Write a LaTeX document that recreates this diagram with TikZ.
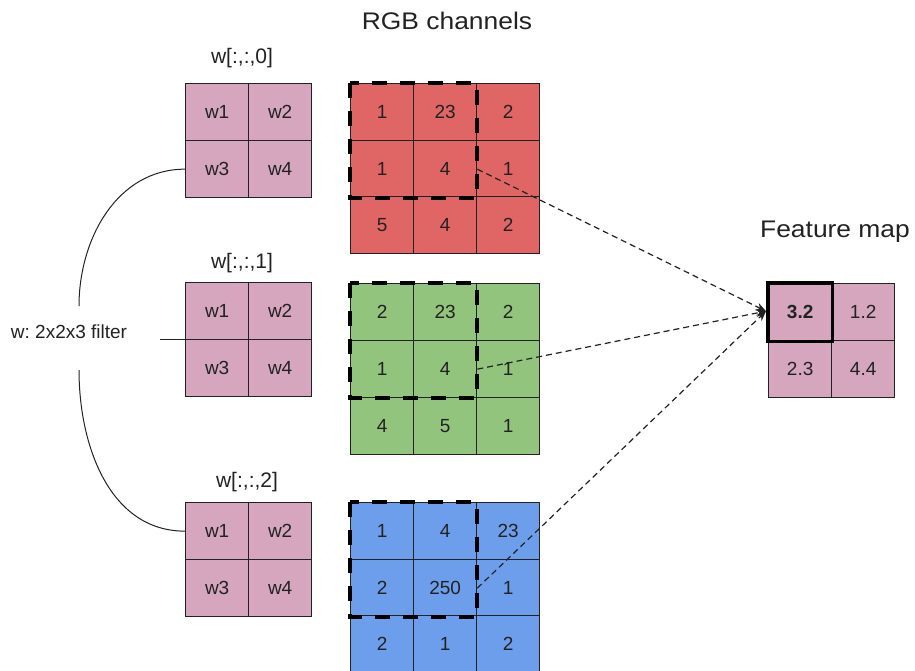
\documentclass[tikz,border=0pt]{standalone}
\usepackage{fontspec}
\setmainfont{Liberation Sans}
\usetikzlibrary{arrows.meta}
\definecolor{wpink}{HTML}{D5A6BD}
\definecolor{chred}{HTML}{E06666}
\definecolor{chgreen}{HTML}{93C47D}
\definecolor{chblue}{HTML}{6D9EEB}
\definecolor{ink}{HTML}{222222}
\newcommand{\widetext}[1]{\scalebox{1.1}[1]{#1}}
\frenchspacing
\tikzset{
  cell/.style={draw=ink, line width=1.3pt, inner sep=0pt, anchor=north west,
    minimum width=63pt, minimum height=57pt, text=ink, font=\fontsize{19}{19}\selectfont},
  wcell/.style={cell, fill=wpink},
  rcell/.style={cell, fill=chred},
  gcell/.style={cell, fill=chgreen},
  bcell/.style={cell, fill=chblue},
  label/.style={text=ink, font=\fontsize{21}{21}\selectfont},
  title/.style={text=ink, font=\fontsize{24}{24}\selectfont},
  window/.style={draw=black, line width=4pt, dash pattern=on 15pt off 13pt},
  link/.style={draw=ink, line width=1pt},
  flow/.style={draw=ink, line width=1.2pt, dash pattern=on 6pt off 4pt,
    -{Stealth[length=10pt,width=8pt]}},
}
\begin{document}
\begin{tikzpicture}[x=1pt,y=-1pt]
\useasboundingbox (0,0) rectangle (915,670);
\begin{scope}
\clip (0,0) rectangle (915,670);

% filter slices
\foreach \n/\y in {0/83,1/282,2/502}{
  \node[wcell] (f\n w1) at (185,\y) {w1};
  \node[wcell] (f\n w2) at (248,\y) {w2};
  \node[wcell] (f\n w3) at (185,\y+57) {w3};
  \node[wcell] (f\n w4) at (248,\y+57) {w4};
}
\node[label] (l0) at (242,58) {w[:,:,0]};
\node[label] (l1) at (242,263) {w[:,:,1]};
\node[label] (l2) at (247,482) {w[:,:,2]};

% red channel
\node[rcell] (r11) at (350,83) {1};
\node[rcell] (r12) at (413,83) {23};
\node[rcell] (r13) at (476,83) {2};
\node[rcell] (r21) at (350,140) {1};
\node[rcell] (r22) at (413,140) {4};
\node[rcell] (r23) at (476,140) {1};
\node[rcell] (r31) at (350,196) {5};
\node[rcell] (r32) at (413,196) {4};
\node[rcell] (r33) at (476,196) {2};

% green channel
\node[gcell] (g11) at (350,283) {2};
\node[gcell] (g12) at (413,283) {23};
\node[gcell] (g13) at (476,283) {2};
\node[gcell] (g21) at (350,340) {1};
\node[gcell] (g22) at (413,340) {4};
\node[gcell] (g23) at (476,340) {1};
\node[gcell] (g31) at (350,397) {4};
\node[gcell] (g32) at (413,397) {5};
\node[gcell] (g33) at (476,397) {1};

% blue channel
\node[bcell] (b11) at (350,502) {1};
\node[bcell] (b12) at (413,502) {4};
\node[bcell] (b13) at (476,502) {23};
\node[bcell] (b21) at (350,559) {2};
\node[bcell] (b22) at (413,559) {250};
\node[bcell] (b23) at (476,559) {1};
\node[bcell] (b31) at (350,615) {2};
\node[bcell] (b32) at (413,615) {1};
\node[bcell] (b33) at (476,615) {2};

% 2x2 receptive windows
\draw[window] (r11.north west) rectangle (r22.south east);
\draw[window] (g11.north west) rectangle (g22.south east);
\draw[window] (b11.north west) rectangle (b22.south east);

% feature map
\node[wcell] (m11) at (768,283) {\textbf{3.2}};
\node[wcell] (m12) at (831,283) {1.2};
\node[wcell] (m21) at (768,340) {2.3};
\node[wcell] (m22) at (831,340) {4.4};
\draw[black, line width=3.5pt] (m11.north west) rectangle (m11.south east);

% titles
\node[title] (t1) at (447,21) {\widetext{RGB channels}};
\node[title] (t2) at (835,232) {\widetext{Feature map}};

% filter brace
\node[label, font=\fontsize{19}{19}\selectfont] (wf) at (69,332) {w: 2x2x3 filter};
\coordinate (hs) at (160,339);
\coordinate (ct) at (79,306);
\coordinate (cb) at (79,370);
\draw[link] (hs) -- (f1w3.north);
\draw[link] (f0w3.west) to[out=180,in=90] (ct);
\draw[link] (cb) to[out=-90,in=180] (f2w1.west);

% contributions to the first output
\draw[flow] (r22.east) -- ([xshift=-2pt,yshift=1pt]m11.west);
\draw[flow] (g22.east) -- ([xshift=-2pt,yshift=1pt]m11.west);
\draw[flow] (b22.east) -- ([xshift=-2pt,yshift=1pt]m11.west);
\end{scope}
\end{tikzpicture}
\end{document}
